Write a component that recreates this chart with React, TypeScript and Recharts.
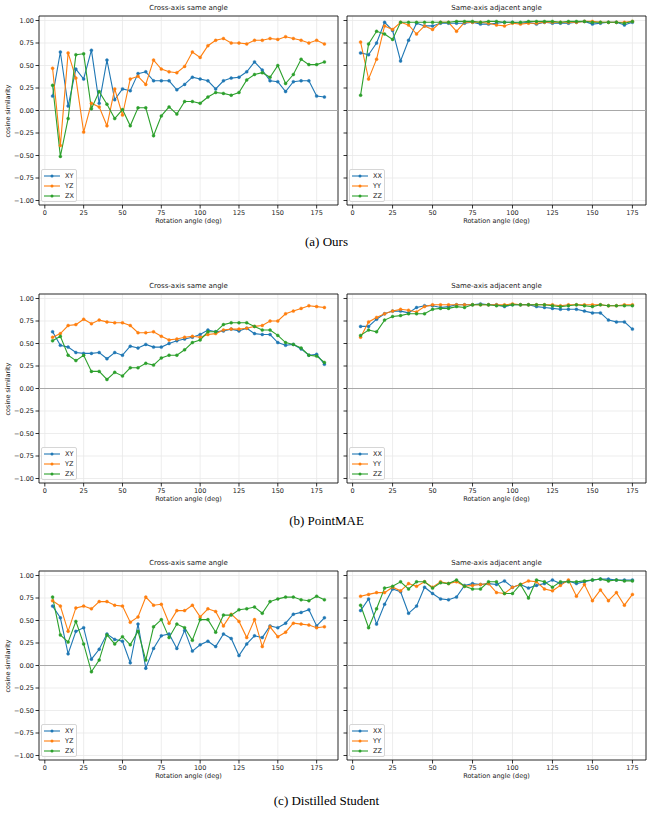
import React from 'react';
import { LineChart, Line, XAxis, YAxis, CartesianGrid, ReferenceLine, ReferenceArea } from 'recharts';

// rotation angles (deg)
const crossAngles = [5, 10, 15, 20, 25, 30, 35, 40, 45, 50, 55, 60, 65, 70, 75, 80, 85, 90,
  95, 100, 105, 110, 115, 120, 125, 130, 135, 140, 145, 150, 155, 160, 165, 170, 175, 180];
const adjAngles = [5, 10, 15, 20, 25, 30, 35, 40, 45, 50, 55, 60, 65, 70, 75, 80, 85, 90,
  95, 100, 105, 110, 115, 120, 125, 130, 135, 140, 145, 150, 155, 160, 165, 170, 175];

// (a) Ours
const oursXY = [0.16, 0.65, 0.05, 0.46, 0.35, 0.67, 0.08, 0.56, 0.12, 0.24, 0.22, 0.41, 0.43, 0.33, 0.33, 0.33, 0.23, 0.29,
  0.37, 0.35, 0.33, 0.24, 0.33, 0.36, 0.37, 0.43, 0.54, 0.45, 0.33, 0.32, 0.21, 0.32, 0.33, 0.33, 0.16, 0.15];
const oursYZ = [0.47, -0.39, 0.64, 0.36, -0.24, 0.08, 0.04, -0.17, 0.24, -0.05, 0.35, 0.38, 0.29, 0.56, 0.46, 0.43, 0.42, 0.49,
  0.65, 0.59, 0.72, 0.78, 0.80, 0.75, 0.75, 0.74, 0.78, 0.78, 0.80, 0.79, 0.82, 0.80, 0.78, 0.75, 0.78, 0.74];
const oursZX = [0.28, -0.51, -0.09, 0.62, 0.63, 0.02, 0.21, 0.07, -0.09, 0.01, -0.17, 0.03, 0.03, -0.28, -0.06, 0.04, -0.04, 0.10,
  0.10, 0.08, 0.15, 0.20, 0.19, 0.17, 0.20, 0.34, 0.40, 0.42, 0.37, 0.50, 0.30, 0.40, 0.57, 0.51, 0.51, 0.54];
const oursXX = [0.64, 0.62, 0.75, 0.98, 0.89, 0.55, 0.78, 0.97, 0.94, 0.94, 0.97, 0.97, 0.97, 0.97, 0.98, 0.96, 0.96, 0.97,
  0.98, 0.98, 0.97, 0.98, 0.96, 0.98, 0.97, 0.97, 0.97, 0.98, 0.99, 0.96, 0.97, 0.98, 0.98, 0.95, 0.98];
const oursYY = [0.76, 0.35, 0.57, 0.94, 0.90, 0.98, 0.95, 0.85, 0.94, 0.90, 0.98, 0.98, 0.88, 0.98, 0.98, 0.98, 0.97, 0.95,
  0.94, 0.97, 0.96, 0.97, 0.97, 0.98, 0.98, 0.98, 0.98, 0.98, 0.99, 0.99, 0.98, 0.98, 0.98, 0.98, 0.99];
const oursZZ = [0.17, 0.74, 0.88, 0.85, 0.79, 0.98, 0.98, 0.98, 0.98, 0.98, 0.98, 0.98, 0.99, 0.99, 0.99, 0.98, 0.99, 0.99,
  0.98, 0.98, 0.98, 0.99, 0.99, 0.99, 0.99, 0.98, 0.99, 0.99, 0.99, 0.98, 0.98, 0.98, 0.98, 0.97, 0.99];

// (b) PointMAE
const maeXY = [0.63, 0.48, 0.46, 0.40, 0.39, 0.39, 0.40, 0.33, 0.40, 0.37, 0.47, 0.45, 0.49, 0.46, 0.46, 0.50, 0.53, 0.55,
  0.57, 0.60, 0.65, 0.63, 0.64, 0.66, 0.64, 0.67, 0.61, 0.60, 0.60, 0.51, 0.48, 0.49, 0.44, 0.37, 0.38, 0.27];
const maeYZ = [0.57, 0.61, 0.70, 0.71, 0.77, 0.72, 0.76, 0.74, 0.73, 0.73, 0.70, 0.62, 0.62, 0.63, 0.58, 0.54, 0.55, 0.57,
  0.58, 0.57, 0.60, 0.61, 0.65, 0.66, 0.66, 0.67, 0.69, 0.70, 0.75, 0.75, 0.83, 0.86, 0.89, 0.92, 0.91, 0.90];
const maeZX = [0.53, 0.58, 0.37, 0.31, 0.37, 0.19, 0.19, 0.10, 0.18, 0.14, 0.23, 0.23, 0.28, 0.26, 0.34, 0.37, 0.37, 0.43,
  0.51, 0.54, 0.63, 0.63, 0.71, 0.73, 0.73, 0.73, 0.69, 0.65, 0.65, 0.59, 0.51, 0.49, 0.45, 0.37, 0.36, 0.29];
const maeXX = [0.69, 0.69, 0.77, 0.83, 0.86, 0.86, 0.84, 0.90, 0.92, 0.92, 0.90, 0.91, 0.93, 0.93, 0.93, 0.94, 0.93, 0.93,
  0.91, 0.93, 0.93, 0.93, 0.91, 0.90, 0.89, 0.88, 0.88, 0.88, 0.86, 0.84, 0.84, 0.76, 0.74, 0.74, 0.66];
const maeYY = [0.57, 0.74, 0.79, 0.83, 0.86, 0.88, 0.87, 0.85, 0.91, 0.93, 0.93, 0.93, 0.93, 0.93, 0.93, 0.93, 0.93, 0.93,
  0.93, 0.94, 0.93, 0.93, 0.93, 0.93, 0.93, 0.92, 0.93, 0.93, 0.93, 0.93, 0.93, 0.92, 0.92, 0.93, 0.93];
const maeZZ = [0.59, 0.65, 0.63, 0.76, 0.80, 0.81, 0.83, 0.83, 0.83, 0.88, 0.89, 0.89, 0.91, 0.90, 0.93, 0.93, 0.93, 0.92,
  0.92, 0.93, 0.93, 0.93, 0.93, 0.93, 0.92, 0.91, 0.92, 0.93, 0.92, 0.91, 0.93, 0.92, 0.92, 0.92, 0.92];

// (c) Distilled Student
const stuXY = [0.66, 0.53, 0.13, 0.38, 0.42, 0.07, 0.18, 0.35, 0.29, 0.27, 0.03, 0.46, -0.03, 0.19, 0.33, 0.35, 0.19, 0.39,
  0.16, 0.23, 0.27, 0.21, 0.35, 0.30, 0.11, 0.24, 0.33, 0.31, 0.44, 0.42, 0.47, 0.57, 0.59, 0.62, 0.44, 0.53];
const stuYZ = [0.72, 0.66, 0.38, 0.64, 0.66, 0.63, 0.71, 0.71, 0.67, 0.66, 0.48, 0.54, 0.76, 0.67, 0.68, 0.47, 0.61, 0.61,
  0.67, 0.54, 0.63, 0.60, 0.44, 0.57, 0.49, 0.31, 0.51, 0.21, 0.43, 0.32, 0.37, 0.47, 0.46, 0.45, 0.42, 0.43];
const stuZX = [0.76, 0.34, 0.26, 0.49, 0.24, -0.07, 0.06, 0.34, 0.24, 0.32, 0.23, 0.38, 0.06, 0.43, 0.51, 0.31, 0.46, 0.42,
  0.28, 0.51, 0.51, 0.37, 0.56, 0.56, 0.62, 0.63, 0.65, 0.58, 0.71, 0.74, 0.76, 0.76, 0.73, 0.72, 0.77, 0.73];
const stuXX = [0.61, 0.74, 0.46, 0.68, 0.85, 0.82, 0.58, 0.66, 0.87, 0.80, 0.74, 0.73, 0.76, 0.89, 0.91, 0.90, 0.91, 0.90,
  0.94, 0.87, 0.90, 0.86, 0.89, 0.91, 0.95, 0.91, 0.94, 0.91, 0.93, 0.95, 0.96, 0.96, 0.95, 0.95, 0.95];
const stuYY = [0.77, 0.79, 0.81, 0.81, 0.87, 0.83, 0.91, 0.88, 0.93, 0.87, 0.93, 0.91, 0.93, 0.88, 0.89, 0.90, 0.91, 0.81,
  0.80, 0.87, 0.90, 0.94, 0.93, 0.85, 0.83, 0.89, 0.95, 0.77, 0.90, 0.72, 0.84, 0.72, 0.81, 0.67, 0.79];
const stuZZ = [0.67, 0.42, 0.63, 0.86, 0.88, 0.93, 0.85, 0.93, 0.93, 0.86, 0.92, 0.91, 0.95, 0.88, 0.85, 0.85, 0.93, 0.93,
  0.80, 0.80, 0.90, 0.75, 0.95, 0.93, 0.87, 0.93, 0.93, 0.93, 0.94, 0.95, 0.96, 0.94, 0.95, 0.94, 0.94];

const crossNames = ['XY', 'YZ', 'ZX'];
const adjNames = ['XX', 'YY', 'ZZ'];
const xTicks = [0, 25, 50, 75, 100, 125, 150, 175];
const yTicks = [-1, -0.75, -0.5, -0.25, 0, 0.25, 0.5, 0.75, 1];

const COLORS = ['#1f77b4', '#ff7f0e', '#2ca02c'];
const FONT = "'DejaVu Sans', sans-serif";
const PLOT_W = 299;
const PLOT_H = 189;

const fmtY = (v: number) => (v < 0 ? '\u2212' : '') + Math.abs(v).toFixed(2);

function buildRows(angles: number[], names: string[], values: number[][]) {
  return angles.map((a, i) => {
    const row: Record<string, number> = { angle: a };
    names.forEach((n, k) => { row[n] = values[k][i]; });
    return row;
  });
}

type PanelProps = {
  plotLeft: number;
  top: number;
  title: string;
  angles: number[];
  names: string[];
  values: number[][];
  xDomain: [number, number];
  yLabels: boolean;
};

function LegendBox({ left, top, names }: { left: number; top: number; names: string[] }) {
  return (
    <div style={{
      position: 'absolute', left, top, width: 34, height: 31,
      border: '1px solid #d6d6d6', borderRadius: 2, background: 'rgba(255,255,255,0.8)',
      fontFamily: FONT, fontSize: 6.5, color: '#222',
    }}>
      {names.map((n, i) => (
        <div key={n} style={{ position: 'absolute', left: 2, top: 2 + i * 10, height: 8, display: 'flex', alignItems: 'center' }}>
          <svg width={16} height={8}>
            <line x1={0} y1={4} x2={16} y2={4} stroke={COLORS[i]} strokeWidth={1.1} />
            <circle cx={8} cy={4} r={1.5} fill={COLORS[i]} />
          </svg>
          <span style={{ marginLeft: 5, lineHeight: '8px' }}>{n}</span>
        </div>
      ))}
    </div>
  );
}

function Panel({ plotLeft, top, title, angles, names, values, xDomain, yLabels }: PanelProps) {
  const yAxisW = yLabels ? 39 : 6;
  const rows = buildRows(angles, names, values);
  const marginTop = 4;
  const xAxisH = 14;
  return (
    <>
      <div style={{
        position: 'absolute', left: plotLeft, top: top - 12, width: PLOT_W, textAlign: 'center',
        fontFamily: FONT, fontSize: 7, lineHeight: '9px', color: '#222',
      }}>{title}</div>
      <div style={{ position: 'absolute', left: plotLeft - yAxisW, top: top - marginTop, fontFamily: FONT }}>
        <LineChart
          width={yAxisW + PLOT_W + 2}
          height={marginTop + PLOT_H + xAxisH}
          data={rows}
          margin={{ top: marginTop, right: 2, bottom: 0, left: 0 }}
        >
          <CartesianGrid stroke="#e9e9e9" strokeWidth={0.8} />
          <XAxis
            dataKey="angle" type="number" domain={xDomain} allowDataOverflow ticks={xTicks}
            height={xAxisH} axisLine={false} tickSize={3.5} tickMargin={1.5}
            tickLine={{ stroke: '#000', strokeWidth: 0.8 }}
            tick={{ fontSize: 6.5, fill: '#222' }} interval={0}
          />
          <YAxis
            type="number" domain={[-1.05, 1.05]} allowDataOverflow ticks={yTicks}
            width={yAxisW} axisLine={false} tickSize={3.5} tickMargin={1.5}
            tickLine={{ stroke: '#000', strokeWidth: 0.8 }}
            tick={{ fontSize: 6.5, fill: '#222' }} interval={0}
            tickFormatter={(v: number) => (yLabels ? fmtY(v) : '')}
          />
          <ReferenceLine y={0} stroke="#a8a8a8" strokeWidth={1} />
          {names.map((n, i) => (
            <Line
              key={n} dataKey={n} name={n} type="linear" stroke={COLORS[i]} strokeWidth={1.1}
              dot={{ r: 1.5, fill: COLORS[i], stroke: COLORS[i], strokeWidth: 0.4 }}
              activeDot={false} isAnimationActive={false}
            />
          ))}
          <ReferenceArea
            x1={xDomain[0]} x2={xDomain[1]} y1={-1.05} y2={1.05}
            fill="none" stroke="#000" strokeWidth={0.8} ifOverflow="visible"
          />
        </LineChart>
      </div>
      <div style={{
        position: 'absolute', left: plotLeft, top: top + PLOT_H + 12, width: PLOT_W, textAlign: 'center',
        fontFamily: FONT, fontSize: 6.5, lineHeight: '8px', color: '#222',
      }}>Rotation angle (deg)</div>
      <LegendBox left={plotLeft + 2} top={top + 153} names={names} />
    </>
  );
}

type RowProps = {
  top: number;
  caption: string;
  captionTop: number;
  cross: number[][];
  adj: number[][];
};

function Row({ top, caption, captionTop, cross, adj }: RowProps) {
  return (
    <>
      <div style={{
        position: 'absolute', left: 8 - 40, top: top + PLOT_H / 2 - 4, width: 80, textAlign: 'center',
        transform: 'rotate(-90deg)', fontFamily: FONT, fontSize: 6.5, lineHeight: '8px', color: '#222',
      }}>cosine similarity</div>
      <Panel plotLeft={39} top={top} title="Cross-axis same angle" angles={crossAngles}
        names={crossNames} values={cross} xDomain={[-3.75, 188.75]} yLabels />
      <Panel plotLeft={347} top={top} title="Same-axis adjacent angle" angles={adjAngles}
        names={adjNames} values={adj} xDomain={[-3.5, 183.5]} yLabels={false} />
      <div style={{
        position: 'absolute', left: 0, top: captionTop, width: 653, textAlign: 'center',
        fontFamily: "'Liberation Serif', 'Times New Roman', serif", fontSize: 13, lineHeight: '16px', color: '#000',
      }}>{caption}</div>
    </>
  );
}

export default function App() {
  return (
    <div style={{ position: 'absolute', left: 0, top: 0, width: 653, height: 816, background: '#fff', overflow: 'hidden' }}>
      <Row top={16} caption="(a) Ours" captionTop={234}
        cross={[oursXY, oursYZ, oursZX]} adj={[oursXX, oursYY, oursZZ]} />
      <Row top={294} caption="(b) PointMAE" captionTop={513}
        cross={[maeXY, maeYZ, maeZX]} adj={[maeXX, maeYY, maeZZ]} />
      <Row top={571} caption="(c) Distilled Student" captionTop={793}
        cross={[stuXY, stuYZ, stuZX]} adj={[stuXX, stuYY, stuZZ]} />
    </div>
  );
}
